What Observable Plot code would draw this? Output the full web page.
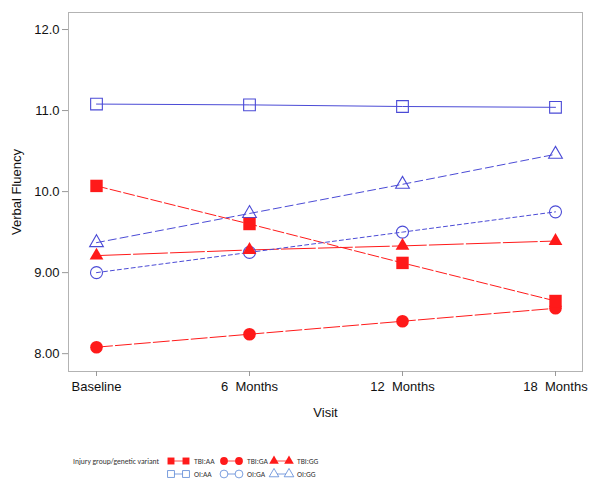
<!DOCTYPE html>
<html>
<head>
<meta charset="utf-8">
<script src="https://cdn.jsdelivr.net/npm/d3@7"></script>
<script src="https://cdn.jsdelivr.net/npm/@observablehq/plot@0.6"></script>
<style>
  body { margin: 0; background: #fff; font-family: "Liberation Sans", Arial, sans-serif; }
  svg { white-space: pre; }
</style>
</head>
<body>
<div id="chart"></div>
<div id="legend"></div>
<script>
const visits = ["Baseline", "6  Months", "12  Months", "18  Months"];
const yTicks = [8, 9, 10, 11, 12];
const yTickLabels = ["8.00", "9.00", "10.0", "11.0", "12.0"];
const seriesNames = ["TBI:AA", "TBI:GA", "TBI:GG", "OI:AA", "OI:GA", "OI:GG"];
const tbiAA = [10.07, 9.60, 9.12, 8.65];
const tbiGA = [8.08, 8.24, 8.40, 8.56];
const tbiGG = [9.21, 9.28, 9.33, 9.39];
const oiAA = [11.08, 11.07, 11.05, 11.04];
const oiGA = [9.00, 9.25, 9.50, 9.75];
const oiGG = [9.37, 9.73, 10.09, 10.46];

const RED = "#ff1a1a", BLUE = "#4b4bd6";
const styles = {
  "TBI:AA": {color: RED, symbol: "square", filled: true, dash: "11,3", r: 7},
  "TBI:GA": {color: RED, symbol: "circle", filled: true, dash: "16,3", r: 6.3},
  "TBI:GG": {color: RED, symbol: "triangle", filled: true, dash: "34,3", r: 5.1},
  "OI:AA": {color: BLUE, symbol: "square", filled: false, dash: null, r: 6.6},
  "OI:GA": {color: BLUE, symbol: "circle", filled: false, dash: "4,3", r: 6},
  "OI:GG": {color: BLUE, symbol: "triangle", filled: false, dash: "8,4", r: 5.1}
};
const valuesBySeries = {"TBI:AA": tbiAA, "TBI:GA": tbiGA, "TBI:GG": tbiGG, "OI:AA": oiAA, "OI:GA": oiGA, "OI:GG": oiGG};

const marks = [Plot.frame({stroke: "#b3b3b3"})];
for (const s of seriesNames) {
  const st = styles[s];
  const data = visits.map((v, i) => ({visit: v, value: valuesBySeries[s][i]}));
  marks.push(Plot.line(data, {x: "visit", y: "value", stroke: st.color, strokeWidth: 1, strokeDasharray: st.dash || undefined}));
}
for (const s of ["OI:AA", "OI:GA", "OI:GG", "TBI:GA", "TBI:GG", "TBI:AA"]) {
  const st = styles[s];
  const data = visits.map((v, i) => ({visit: v, value: valuesBySeries[s][i]}));
  marks.push(Plot.dot(data, {x: "visit", y: "value", symbol: () => st.symbol, r: st.r,
    fill: st.filled ? st.color : "none", stroke: st.color, strokeWidth: st.filled ? 0 : 1.1}));
}
marks.push(Plot.axisY({ticks: yTicks, tickFormat: (d) => yTickLabels[yTicks.indexOf(d)], tickSize: 6, tickPadding: 3,
  label: "Verbal Fluency", labelAnchor: "center", labelArrow: false, labelOffset: 57, fontSize: 13, stroke: "#999"}));
marks.push(Plot.axisX({tickSize: 5, tickPadding: 5, label: "Visit", labelAnchor: "center", labelArrow: false, labelOffset: 45, fontSize: 13, stroke: "#999"}));

const chart = Plot.plot({
  width: 600,
  height: 440,
  marginLeft: 68,
  marginRight: 18,
  marginTop: 12,
  marginBottom: 69,
  style: {fontFamily: "Liberation Sans, Arial, sans-serif", fontSize: "13px", color: "#111", background: "#fff"},
  x: {type: "point", domain: visits, padding: 0.17},
  y: {domain: [7.78, 12.21]},
  marks
});
document.getElementById("chart").appendChild(chart);

// legend
const lw = 600, lh = 47;
const svg = d3.select("#legend").append("svg").attr("width", lw).attr("height", lh)
  .style("font-family", "Calibri, Carlito, 'Liberation Sans', sans-serif").style("font-size", "7.6px");
svg.append("text").attr("x", 73).attr("y", 21).attr("dy", "0.35em").attr("fill", "#333").text("Injury group/genetic variant");
const colX = [168, 221, 271];
const sym = {square: d3.symbolSquare, circle: d3.symbolCircle, triangle: d3.symbolTriangle};
seriesNames.forEach((s, i) => {
  const st = styles[s];
  const row = i < 3 ? 0 : 1, col = i % 3;
  const y = row === 0 ? 21 : 34;
  const x0 = colX[col] + 3, x1 = colX[col] + 18;
  const c = st.filled ? st.color : "#5b86d6";
  svg.append("line").attr("x1", x0).attr("x2", x1).attr("y1", y).attr("y2", y).attr("stroke", c).attr("stroke-width", 0.8);
  for (const x of [x0, x1]) {
    svg.append("path").attr("d", d3.symbol(sym[st.symbol], st.symbol === "triangle" ? 40 : 48)())
      .attr("transform", `translate(${x},${y})`)
      .attr("fill", st.filled ? c : "#fff").attr("stroke", c).attr("stroke-width", st.filled ? 0 : 0.8);
  }
  svg.append("text").attr("x", colX[col] + 26).attr("y", y).attr("dy", "0.35em").attr("fill", "#333").text(s);
});
</script>
</body>
</html>
